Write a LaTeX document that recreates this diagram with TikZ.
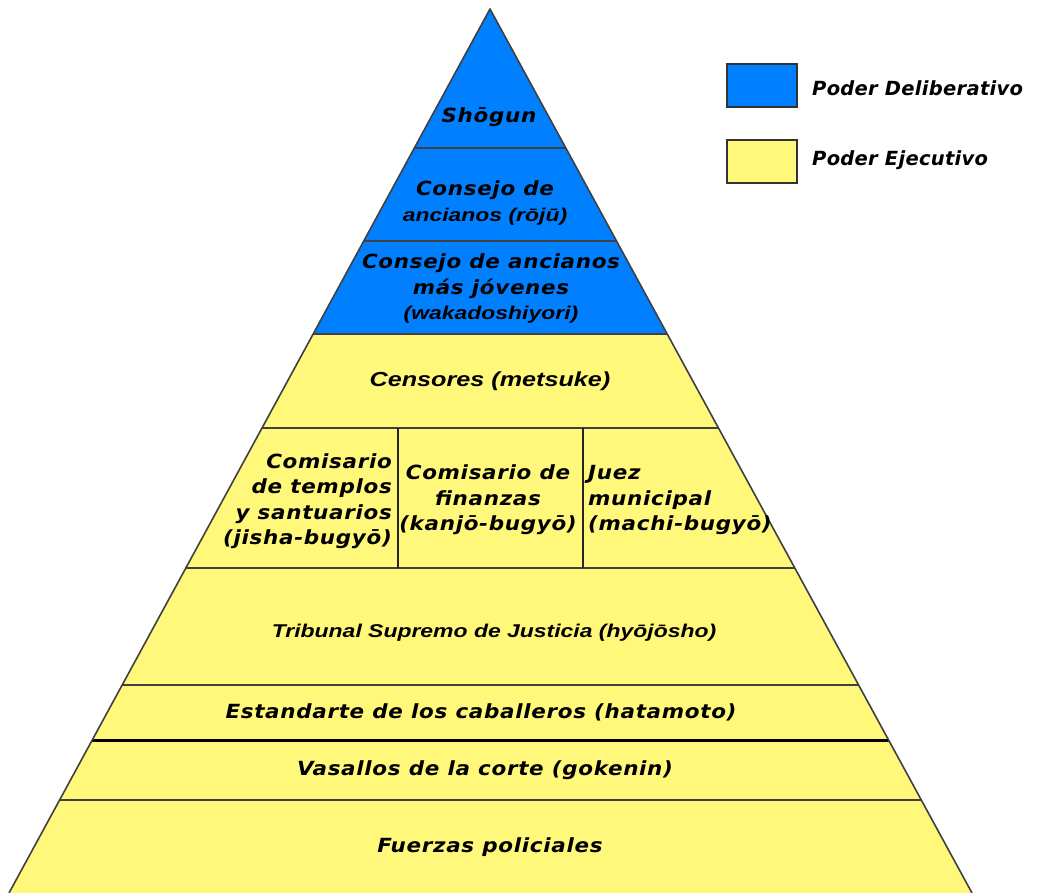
\documentclass[tikz,border=0pt]{standalone}
\usepackage{fontspec}
\setmainfont{DejaVu Sans}
\newfontfamily\widefont{DejaVu Sans}[BoldItalicFont={DejaVu Sans Bold Oblique}, BoldItalicFeatures={FakeStretch=1.1,LetterSpace=3.5}]
\newfontfamily\legendfont{DejaVu Sans}[BoldItalicFont={DejaVu Sans Bold Oblique}, BoldItalicFeatures={LetterSpace=1.5}]
\newfontfamily\narrowfont{Liberation Sans}
\newcommand{\nline}[1]{\scalebox{1.24}[1]{\narrowfont\bfseries\itshape #1}}
\definecolor{pblue}{RGB}{0,128,255}
\definecolor{pyellow}{RGB}{255,248,122}
\begin{document}
\begin{tikzpicture}[x=1pt,y=-1pt,
  lbl/.style={font=\fontsize{19.5}{25.5}\selectfont\widefont\bfseries\itshape, inner sep=0pt, align=center},
  narrowlbl/.style={lbl, font=\fontsize{18.5}{25.5}\selectfont},
  sep/.style={draw=black!75, line width=2pt},
  thicksep/.style={draw=black, line width=3pt},
  divider/.style={draw=black!85, line width=1.5pt},
  edge/.style={draw=black!75, line width=1.6pt, line join=round},
  legendbox/.style={draw=black!80, line width=1.5pt},
  legendlbl/.style={lbl, font=\fontsize{19.5}{25.5}\selectfont\legendfont\bfseries\itshape, anchor=west}]
\useasboundingbox (0,0) rectangle (1055,893);
% pyramid bands
\begin{scope}
  \clip (490,9) -- (972,893) -- (9,893) -- cycle;
  \fill[pyellow] (0,0) rectangle (1055,893);
  \fill[pblue] (0,0) rectangle (1055,334);
  \draw[sep] (0,148) -- (1055,148);
  \draw[sep] (0,241) -- (1055,241);
  \draw[sep] (0,334) -- (1055,334);
  \draw[sep] (0,428) -- (1055,428);
  \draw[sep] (0,568) -- (1055,568);
  \draw[sep] (0,685) -- (1055,685);
  \draw[thicksep] (0,740) -- (1055,740);
  \draw[sep] (0,800) -- (1055,800);
\end{scope}
\draw[divider] (398,428) -- (398,568);
\draw[divider] (583,428) -- (583,568);
\draw[edge] (9,893) -- (490,9) -- (972,893);
% labels
\node[lbl] (shogun) at (489,117) {Shōgun};
\node[lbl] (roju) at (485,203) {Consejo de\\{\fontsize{18.5}{25.5}\selectfont\nline{ancianos (rōjū)}}};
\node[lbl] (waka) at (491,289) {Consejo de ancianos\\más jóvenes\\{\fontsize{18.5}{25.5}\selectfont\nline{(wakadoshiyori)}}};
\node[narrowlbl, font=\fontsize{20.3}{25.5}\selectfont] (censores) at (490,381) {\nline{Censores (metsuke)}};
\node[lbl, align=right, anchor=east] (jisha) at (392,501) {Comisario\\de templos\\y santuarios\\(jisha-bugyō)};
\node[lbl] (kanjo) at (488,500) {Comisario de\\finanzas\\(kanjō-bugyō)};
\node[lbl, align=left, anchor=west] (machi) at (588,500) {Juez\\municipal\\(machi-bugyō)};
\node[narrowlbl] (tribunal) at (494,633) {\nline{Tribunal Supremo de Justicia (hyōjōsho)}};
\node[lbl] (hatamoto) at (481,712) {Estandarte de los caballeros (hatamoto)};
\node[lbl] (gokenin) at (485,770) {Vasallos de la corte (gokenin)};
\node[lbl] (fuerzas) at (490,847) {Fuerzas policiales};
% legend
\draw[legendbox, fill=pblue] (727,64) rectangle (797,107);
\draw[legendbox, fill=pyellow] (727,140) rectangle (797,183);
\node[legendlbl] (ldel) at (812,88) {Poder Deliberativo};
\node[legendlbl] (lejec) at (812,160) {Poder Ejecutivo};
\end{tikzpicture}
\end{document}
